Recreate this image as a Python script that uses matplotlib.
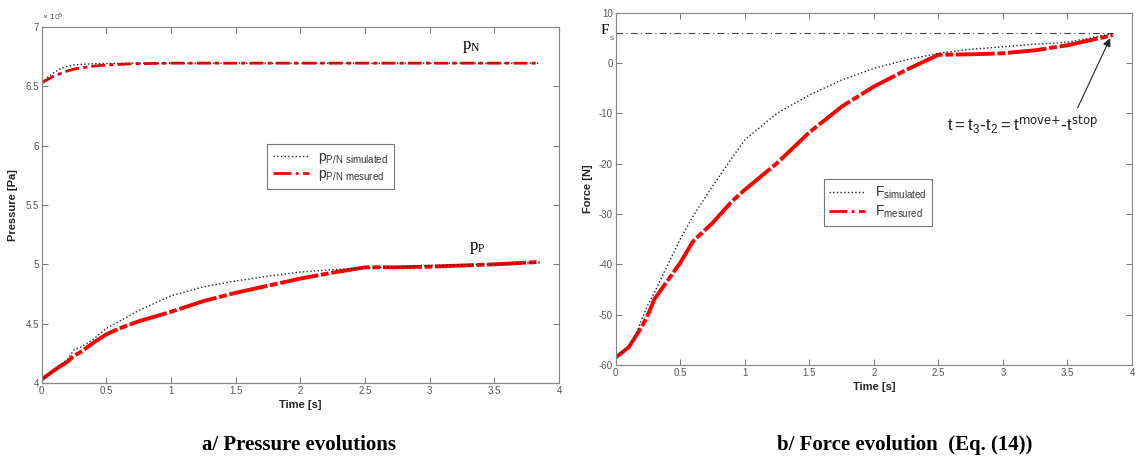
import matplotlib
matplotlib.use("Agg")
import matplotlib.pyplot as plt
from matplotlib.lines import Line2D
from matplotlib.ticker import FuncFormatter

plt.rcParams["axes.unicode_minus"] = False

# Pressure data (units of 1e5 Pa)
t_pn = [0, 0.05, 0.1, 0.15, 0.2, 0.25, 0.3, 0.4, 0.5, 0.7, 1.0, 2.0, 3.0, 3.85]
pn_sim = [6.53, 6.58, 6.62, 6.65, 6.67, 6.68, 6.685, 6.69, 6.692, 6.695, 6.695, 6.695, 6.695, 6.695]
pn_mes = [6.53, 6.56, 6.59, 6.61, 6.63, 6.645, 6.655, 6.67, 6.68, 6.69, 6.695, 6.695, 6.695, 6.695]

t_pp = [0, 0.1, 0.2, 0.25, 0.3, 0.4, 0.5, 0.6, 0.75, 1.0, 1.25, 1.5, 1.75, 2.0,
        2.25, 2.5, 2.75, 3.0, 3.25, 3.5, 3.85]
pp_sim = [4.02, 4.11, 4.2, 4.28, 4.3, 4.37, 4.46, 4.52, 4.61, 4.735, 4.81, 4.86, 4.9, 4.935,
          4.955, 4.97, 4.98, 4.99, 4.995, 5.0, 5.015]
pp_mes = [4.03, 4.11, 4.18, 4.23, 4.26, 4.34, 4.41, 4.46, 4.52, 4.6, 4.69, 4.76, 4.82, 4.88,
          4.93, 4.975, 4.975, 4.98, 4.99, 5.0, 5.02]

# Force data [N]
t_f = [0, 0.1, 0.15, 0.2, 0.25, 0.3, 0.4, 0.5, 0.6, 0.75, 0.9, 1.0, 1.25, 1.5, 1.75,
       2.0, 2.25, 2.5, 2.75, 3.0, 3.25, 3.5, 3.85]
f_sim = [-58.5, -56.5, -54.5, -51, -48, -45.6, -40.3, -35, -30.4, -24.5, -18.9, -15.3, -10,
         -6.4, -3.4, -1.1, 0.6, 1.9, 2.7, 3.2, 3.7, 4.1, 5.8]
f_mes = [-58.5, -56.5, -54.5, -52.5, -50, -46.9, -43.3, -39.7, -35.4, -31.8, -27.5, -25.2,
         -19.9, -13.8, -8.7, -4.7, -1.4, 1.6, 1.7, 1.9, 2.5, 3.5, 5.5]
f_s = 5.87
t_end = 3.85

GRAY = "#555555"
RED = "#ff0000"
mes_style = (0, (10, 0.7, 2, 0.7))

fig = plt.figure(figsize=(11.36, 4.76), dpi=100)
ax1 = fig.add_axes([0.0367, 0.1954, 0.4554, 0.7479])
ax2 = fig.add_axes([0.542, 0.2332, 0.4545, 0.7405])

for ax in (ax1, ax2):
    ax.tick_params(direction="in", top=True, right=True, length=4, width=0.7,
                   colors="#777777", labelcolor=GRAY, labelsize=7, pad=2)
    for s in ax.spines.values():
        s.set_color("#888888")
        s.set_linewidth(0.9)
    ax.set_xlim(0, 4)
    ax.set_xticks([0, 0.5, 1, 1.5, 2, 2.5, 3, 3.5, 4])
    ax.xaxis.set_major_formatter(FuncFormatter(lambda v, p: "%g" % v))

# ---- a/ pressure
ax1.plot(t_pn, [v * 1e5 for v in pn_sim], ":", color="#222222", lw=1.0)
ax1.plot(t_pn, [v * 1e5 for v in pn_mes], color="#e00000", lw=2.0, linestyle=(0, (5, 1.5, 1.5, 1.5)))
ax1.plot(t_pp, [v * 1e5 for v in pp_mes], color=RED, lw=2.8, linestyle=mes_style)
ax1.plot(t_pp, [v * 1e5 for v in pp_sim], ":", color="#222222", lw=1.0)
ax1.set_ylim(4e5, 7e5)
ax1.set_yticks([4e5, 4.5e5, 5e5, 5.5e5, 6e5, 6.5e5, 7e5])
ax1.yaxis.set_major_formatter(FuncFormatter(lambda v, p: "%g" % (v / 1e5)))
for ax in (ax1, ax2):
    for lab in ax.get_xticklabels() + ax.get_yticklabels():
        lab.set_family("Liberation Sans")
ax1.text(0.0, 1.012, r"$\mathregular{\times\ 10^5}$", transform=ax1.transAxes, fontsize=6,
         color=GRAY, family="Liberation Sans", va="bottom", ha="left")
ax1.set_xlabel("Time [s]", fontsize=8, fontweight="bold", family="Liberation Sans",
               color="#222222", labelpad=3)
ax1.set_ylabel("Pressure [Pa]", fontsize=8, fontweight="bold", family="Liberation Sans",
               color="#222222", labelpad=5)
ax1.text(3.32, 6.83e5, r"$\mathregular{p_N}$", fontsize=12, family="Liberation Serif",
         ha="center", va="center")
ax1.text(3.37, 5.14e5, r"$\mathregular{p_P}$", fontsize=12, family="Liberation Serif",
         ha="center", va="center")
h1 = [Line2D([], [], linestyle=":", color="#222222", lw=1.0),
      Line2D([], [], linestyle="-.", color=RED, lw=2.0)]
leg1 = ax1.legend(h1, [r"$\mathregular{p_{P/N\ simulated}}$", r"$\mathregular{p_{P/N\ mesured}}$"],
                  loc="upper left", bbox_to_anchor=(0.4355, 0.671), borderaxespad=0,
                  fancybox=False, edgecolor="#777777", framealpha=1, handlelength=2.6,
                  handletextpad=0.7, borderpad=0.4, labelspacing=0.1,
                  prop={"family": "Liberation Sans", "size": 10})
leg1.get_frame().set_linewidth(0.8)
for txt in leg1.get_texts():
    txt.set_color("#333333")

# ---- b/ force
ax2.plot([0, t_end], [f_s, f_s], color="#444444", lw=0.8, linestyle=(0, (6, 3, 1, 3)))
ax2.plot(t_f, f_mes, color=RED, lw=2.8, linestyle=mes_style)
ax2.plot(t_f, f_sim, ":", color="#222222", lw=1.0)
ax2.set_ylim(-60, 10)
ax2.set_yticks([-60, -50, -40, -30, -20, -10, 0, 10])
for lab in ax2.get_yticklabels():
    lab.set_family("Liberation Sans")
ax2.set_xlabel("Time [s]", fontsize=8, fontweight="bold", family="Liberation Sans",
               color="#222222", labelpad=3)
ax2.set_ylabel("Force [N]", fontsize=8, fontweight="bold", family="Liberation Sans",
               color="#222222", labelpad=4)
ax2.text(-0.087, 6.5, "F", fontsize=11, family="Liberation Serif", ha="center", va="center",
         clip_on=False)
ax2.text(-0.03, 4.9, "s", fontsize=6, family="Liberation Sans", color=GRAY, ha="center",
         va="center", clip_on=False)
ax2.annotate("", xy=(3.84, 5.4), xytext=(3.57, -9.4),
             arrowprops=dict(arrowstyle="-|>", color="#222222", lw=0.8, mutation_scale=12))
ax2.text(2.57, -12.3, r"$\mathregular{t = t_3\text{-}t_2 = t^{\text{move+}}\text{-}t^{\text{stop}}}$",
         fontsize=12, family="Liberation Sans", ha="left", va="center", color="#222222")
h2 = [Line2D([], [], linestyle=":", color="#222222", lw=1.0),
      Line2D([], [], linestyle="-.", color=RED, lw=2.0)]
leg2 = ax2.legend(h2, [r"$\mathregular{F_{simulated}}$", r"$\mathregular{F_{mesured}}$"],
                  loc="upper left", bbox_to_anchor=(0.403, 0.527), borderaxespad=0,
                  fancybox=False, edgecolor="#777777", framealpha=1, handlelength=2.6,
                  handletextpad=0.7, borderpad=0.4, labelspacing=0.2,
                  prop={"family": "Liberation Sans", "size": 10})
leg2.get_frame().set_linewidth(0.8)
for txt in leg2.get_texts():
    txt.set_color("#333333")

fig.text(0.263, 0.065, "a/ Pressure evolutions", fontsize=15, fontweight="bold",
         family="Liberation Serif", ha="center", va="center")
fig.text(0.796, 0.065, "b/ Force evolution  (Eq. (14))", fontsize=15, fontweight="bold",
         family="Liberation Serif", ha="center", va="center")

fig.savefig("out.png", dpi=100)
